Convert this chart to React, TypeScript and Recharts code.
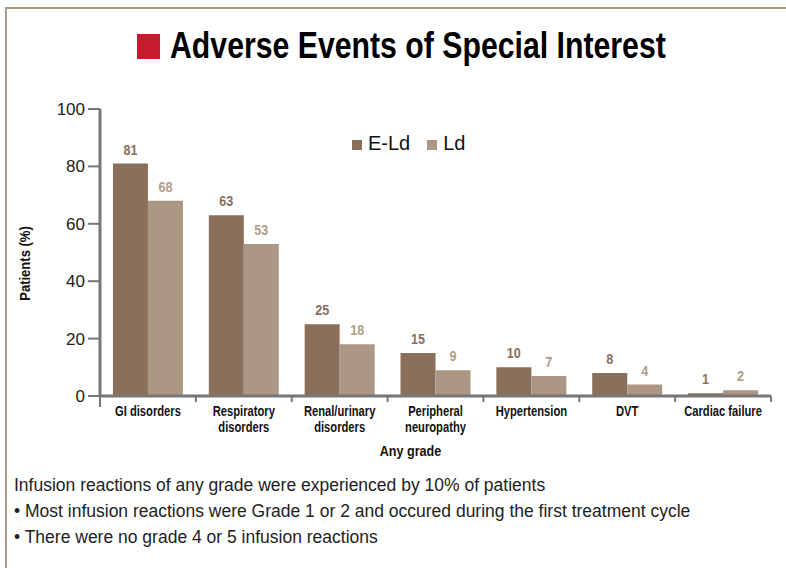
import React from 'react';
import { BarChart, Bar, XAxis, YAxis, LabelList } from 'recharts';

// Adverse events, any grade (% of patients)
const CATEGORIES = [
  'GI disorders',
  'Respiratory\ndisorders',
  'Renal/urinary\ndisorders',
  'Peripheral\nneuropathy',
  'Hypertension',
  'DVT',
  'Cardiac failure',
];
const ELD_VALUES = [81, 63, 25, 15, 10, 8, 1];
const LD_VALUES = [68, 53, 18, 9, 7, 4, 2];
const Y_TICKS = [0, 20, 40, 60, 80, 100];
const NOTES = [
  'Infusion reactions of any grade were experienced by 10% of patients',
  '\u2022 Most infusion reactions were Grade 1 or 2 and occured during the first treatment cycle',
  '\u2022 There were no grade 4 or 5 infusion reactions',
];

const ELD_COLOR = '#8a6f5a';
const LD_COLOR = '#ab9783';
const AXIS_COLOR = '#777777';
const SANS = '"Liberation Sans", Arial, sans-serif';
// no narrow face installed, so condensed text is squeezed horizontally
const SQUEEZE = 0.8;

const CHART_W = 786;
const CHART_H = 470;
const MARGIN = { top: 109, right: 15, left: 10, bottom: 8 };
const Y_WIDTH = 90;
const PLOT_W = CHART_W - MARGIN.left - MARGIN.right - Y_WIDTH;
const BAND = PLOT_W / CATEGORIES.length;

const chartData = CATEGORIES.map((name, i) => ({
  name,
  eld: ELD_VALUES[i],
  ld: LD_VALUES[i],
}));

function NarrowText({ x, y, size, fill, angle = 0, sx = SQUEEZE, children }: any) {
  return (
    <text
      transform={`translate(${x},${y}) rotate(${angle}) scale(${sx},1)`}
      textAnchor="middle"
      fontFamily={SANS}
      fontWeight="bold"
      fontSize={size}
      fill={fill}
    >
      {children}
    </text>
  );
}

function CategoryTick(props: any) {
  const { x, y, payload, index } = props;
  const lines = String(payload.value).split('\n');
  const left = x - BAND / 2;
  const right = x + BAND / 2;
  return (
    <g>
      <line x1={left} x2={left} y1={y} y2={y + (index === 0 ? 11 : 6)} stroke={AXIS_COLOR} strokeWidth={2} />
      {index === CATEGORIES.length - 1 && (
        <line x1={right} x2={right} y1={y} y2={y + 6} stroke={AXIS_COLOR} strokeWidth={2} />
      )}
      {lines.map((line, i) => (
        <NarrowText key={i} x={x} y={y + 20 + i * 16} size={14} fill="#111">
          {line}
        </NarrowText>
      ))}
    </g>
  );
}

const valueLabel = (color: string) => (props: any) => {
  const { x, y, width, value } = props;
  return (
    <NarrowText x={x + width / 2} y={y - 9} size={15} fill={color} sx={0.84}>
      {value}
    </NarrowText>
  );
};

const xAxisLabel = (props: any) => {
  const vb = props.viewBox;
  return (
    <NarrowText x={vb.x + vb.width / 2 - 25} y={vb.y + 60} size={15} fill="#111" sx={0.84}>
      Any grade
    </NarrowText>
  );
};

const yAxisLabel = (props: any) => {
  const vb = props.viewBox;
  return (
    <NarrowText x={30} y={vb.y + vb.height / 2 + 11} size={15} fill="#111" angle={-90} sx={0.87}>
      Patients (%)
    </NarrowText>
  );
};

function ChartLegend() {
  const items = [
    { label: 'E-Ld', color: ELD_COLOR },
    { label: 'Ld', color: LD_COLOR },
  ];
  return (
    <div
      style={{
        position: 'absolute',
        left: 352,
        top: 132,
        display: 'flex',
        alignItems: 'center',
        fontFamily: SANS,
        fontSize: 20,
        color: '#111',
      }}
    >
      {items.map((it) => (
        <div key={it.label} style={{ display: 'flex', alignItems: 'center', marginRight: 17 }}>
          <span style={{ display: 'inline-block', width: 10, height: 10, background: it.color, marginRight: 6, marginTop: 3 }} />
          <span>{it.label}</span>
        </div>
      ))}
    </div>
  );
}

export default function App() {
  return (
    <div style={{ position: 'absolute', left: 0, top: 0, width: 786, height: 568, overflow: 'hidden', background: '#fff' }}>
      <div
        style={{
          position: 'absolute',
          left: 5,
          top: 7,
          width: 820,
          height: 600,
          borderTop: '2px solid #a99c8c',
          borderLeft: '2px solid #a99c8c',
        }}
      />
      <div
        style={{
          position: 'absolute',
          left: 137,
          top: 25,
          display: 'flex',
          alignItems: 'center',
          fontFamily: SANS,
          fontWeight: 'bold',
          fontSize: 36,
          color: '#000',
          whiteSpace: 'nowrap',
        }}
      >
        <span style={{ display: 'inline-block', width: 23, height: 25, background: '#c8192e', marginRight: 10 }} />
        <span style={{ display: 'inline-block', transform: 'scaleX(0.84)', transformOrigin: 'left center' }}>
          Adverse Events of Special Interest
        </span>
      </div>
      <div style={{ position: 'absolute', left: 0, top: 0 }}>
        <BarChart width={CHART_W} height={CHART_H} data={chartData} margin={MARGIN} barCategoryGap="13.5%" barGap={0}>
          <XAxis
            dataKey="name"
            interval={0}
            height={66}
            tickSize={0}
            tickMargin={0}
            tickLine={false}
            axisLine={{ stroke: AXIS_COLOR, strokeWidth: 3 }}
            tick={<CategoryTick />}
            label={{ content: xAxisLabel }}
          />
          <YAxis
            width={Y_WIDTH}
            domain={[0, 100]}
            ticks={Y_TICKS}
            interval={0}
            tickSize={12}
            tickMargin={3}
            tickLine={{ stroke: AXIS_COLOR, strokeWidth: 2 }}
            axisLine={{ stroke: AXIS_COLOR, strokeWidth: 3 }}
            tick={{ fill: '#222', fontSize: 17, fontFamily: SANS }}
            label={{ content: yAxisLabel }}
          />
          <Bar dataKey="eld" name="E-Ld" fill={ELD_COLOR} isAnimationActive={false}>
            <LabelList dataKey="eld" content={valueLabel(ELD_COLOR)} />
          </Bar>
          <Bar dataKey="ld" name="Ld" fill={LD_COLOR} isAnimationActive={false}>
            <LabelList dataKey="ld" content={valueLabel('#b09c88')} />
          </Bar>
        </BarChart>
      </div>
      <ChartLegend />
      <div
        style={{
          position: 'absolute',
          left: 14,
          top: 472,
          fontFamily: SANS,
          fontSize: 17.5,
          color: '#222',
          lineHeight: '26px',
        }}
      >
        {NOTES.map((n) => (
          <div key={n}>{n}</div>
        ))}
      </div>
    </div>
  );
}
